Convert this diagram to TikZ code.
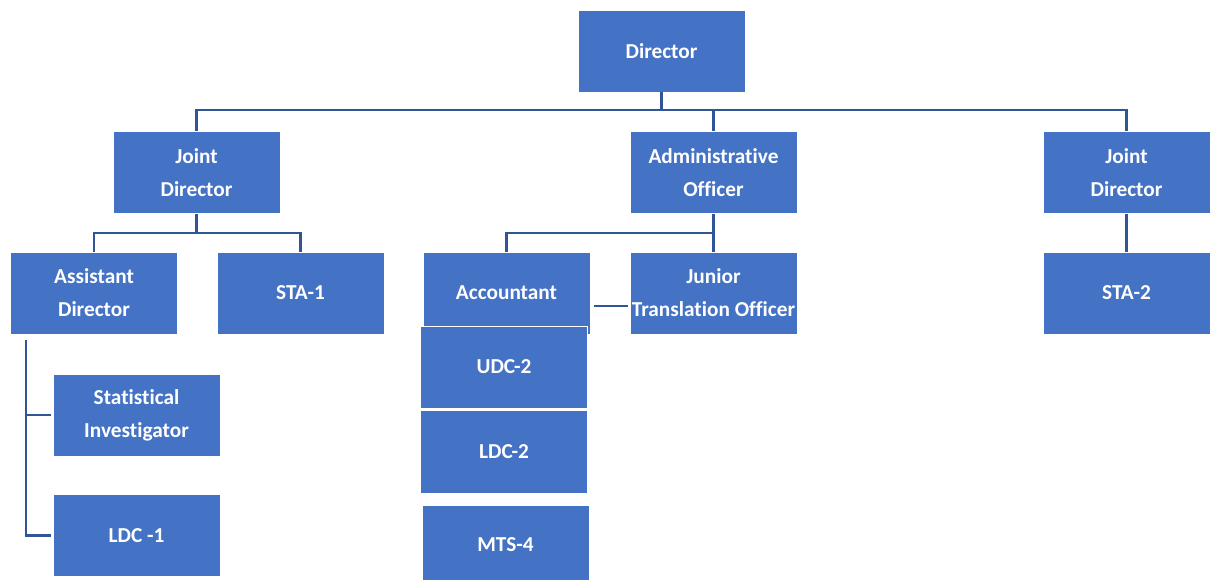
\documentclass[tikz,border=0pt]{standalone}
\usepackage{fontspec}
\setmainfont{Carlito}[Ligatures=NoCommon]
\usepackage{tikz}
\usetikzlibrary{positioning}

\definecolor{boxblue}{HTML}{4472C4}
\definecolor{linkblue}{HTML}{2F5597}

\begin{document}
\begin{tikzpicture}[
      x=1pt, y=-1pt,
      post/.style  = {rectangle, fill=boxblue, draw=white, line width=0.8pt,
                      minimum width=167pt, minimum height=82pt, inner sep=0pt,
                      align=center, text=white,
                      font=\fontsize{21.3}{33}\selectfont\bfseries},
      link/.style  = {draw=linkblue, line width=2.6pt}
    ]
    \useasboundingbox (0,0) rectangle (1215,580);

    % top level
    \node[post] (dir)   at (661.5,51)   {Director};
    \node[post] (jd1)   at (196.5,172.5) {Joint\\Director};
    \node[post] (admin) at (713.5,172.5) {Administrative\\Officer};
    \node[post] (jd2)   at (1126.5,172.5) {Joint\\Director};

    % second level
    \node[post] (asd)   at (94,293)     {Assistant\\Director};
    \node[post] (sta1)  at (300.5,293)  {STA-1};
    \node[post] (acc)   at (506.5,293)  {Accountant};
    \node[post] (jto)   at (713.5,293)  {Junior\\Translation Officer};
    \node[post] (sta2)  at (1126.5,293) {STA-2};

    % staff under assistant director
    \node[post] (si)    at (136.5,415)  {Statistical\\Investigator};
    \node[post] (ldc1)  at (136.5,535.5) {LDC -1};

    % staff under accountant
    \node[post] (udc2)  at (504,367)    {UDC-2};
    \node[post, minimum height=83pt] (ldc2) at (504,451.5) {LDC-2};
    \node[post, minimum height=80pt] (mts4) at (505.5,545) {MTS-4};

    % connectors
    \coordinate (bus1)  at (661.5,110);
    \coordinate (bus2)  at (196.5,233);
    \coordinate (bus3)  at (713.5,233);
    \coordinate (spine) at (26,340);

    \draw[link] (dir.south) -- (bus1);
    \draw[link] (jd1.north) |- (bus1) -| (jd2.north);
    \draw[link] (admin.north) -- (admin.north |- bus1);

    \draw[link] (jd1.south) -- (bus2);
    \draw[link] (asd.north) |- (bus2) -| (sta1.north);
    \draw[link] (admin.south) -- (jto.north);
    \draw[link] (acc.north) |- (bus3);
    \draw[link] (jd2.south) -- (sta2.north);

    \draw[link] ([xshift=4pt,yshift=-13pt]acc.east)
                -- ([xshift=-2pt,yshift=-13pt]jto.west);

    \draw[link] (spine) |- ([xshift=-2pt]si.west);
    \draw[link] (spine) |- ([xshift=-2pt]ldc1.west);
\end{tikzpicture}
\end{document}
